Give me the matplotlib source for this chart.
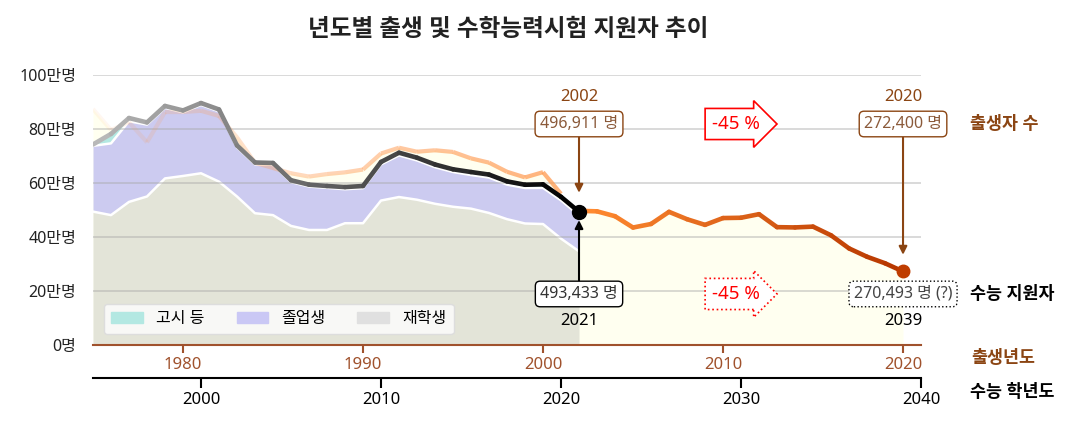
import numpy as np
import matplotlib
matplotlib.use("Agg")
import matplotlib.pyplot as plt
from matplotlib.collections import LineCollection
from matplotlib.colors import to_rgba
from matplotlib.patches import Patch
from matplotlib.ticker import FuncFormatter

plt.rcParams['font.family'] = ['Noto Sans', 'Noto Sans CJK KR', 'DejaVu Sans']

# 출생자 수 (출생년도 1975-2020)
birth_years = np.arange(1975, 2021)
births = [874030, 796331, 825339, 750728, 862669, 862835, 867409, 848312, 769155, 674793,
          655489, 636019, 623831, 633092, 639431, 649738, 709275, 730678, 715826, 721185,
          715020, 691226, 675394, 641594, 620668, 640089, 559934, 496911, 495036, 476958,
          435031, 448153, 493189, 465892, 444849, 470171, 471265, 484550, 436455, 435435,
          438420, 406243, 357771, 326822, 302676, 272400]

# 수능 지원자 (수능 학년도 1994-2021)
csat_years = np.arange(1994, 2022)
csat_total = [742668, 781749, 840661, 824374, 885321, 868643, 896122, 872297, 739129, 675922,
              674154, 610257, 593806, 588899, 584934, 588839, 677834, 712227, 693631, 668527,
              650747, 640621, 631187, 605987, 593527, 594924, 548734, 493433]
csat_current = [494000, 481000, 530000, 550000, 617000, 626000, 636000, 605000, 550000, 488000,
                481000, 441000, 426000, 426000, 451000, 451000, 535000, 548000, 538000, 523000,
                512000, 505000, 489000, 466000, 450000, 448000, 394000, 347000]
csat_etc = [5000, 35000, 12000, 8000, 7000, 7000, 7000, 7000, 7000, 7000,
            7000, 7000, 7000, 7000, 8000, 8000, 9000, 10000, 10000, 10000,
            10000, 11000, 11000, 12000, 12000, 13000, 13000, 13691]

shift = 19  # 수능 학년도 = 출생년도 + 19

births = np.array(births, dtype=float)
csat_total = np.array(csat_total, dtype=float)
csat_current = np.array(csat_current, dtype=float)
csat_etc = np.array(csat_etc, dtype=float)
csat_grad = csat_total - csat_current - csat_etc
cx = csat_years - shift

brown = '#8b4513'
fig = plt.figure(figsize=(10.8, 4.32), dpi=100)
ax = fig.add_axes([0.0861, 0.2014, 0.7667, 0.625])

# 출생자 영역
ax.fill_between(birth_years, 0, births, color='#fffff0', lw=0, zorder=0.5)

# 수능 지원자 누적 영역
ax.fill_between(cx, 0, csat_current, color='#e3e4d8', lw=0, zorder=1)
ax.fill_between(cx, csat_current, csat_current + csat_grad, color='#cccbf0', lw=0, zorder=1)
ax.fill_between(cx, csat_current + csat_grad, csat_total, color='#b3e8e2', lw=0, zorder=1)
ax.plot(cx, csat_current, color='white', lw=1.8, zorder=1.2)
ax.plot(cx, csat_current + csat_grad, color='white', lw=1.8, zorder=1.2)

# 과거 출생자 (흐리게)
old = birth_years <= 2001
pts = np.column_stack([birth_years[old], births[old]])
segs = np.stack([pts[:-1], pts[1:]], axis=1)
alphas = np.linspace(0.08, 0.75, len(segs))
cols = [to_rgba('#ff9a50', a) for a in alphas]
ax.add_collection(LineCollection(segs, colors=cols, linewidths=3, zorder=3, capstyle='butt'))

# 수능 지원자 합계 (회색 -> 검정)
pts = np.column_stack([cx, csat_total])
segs = np.stack([pts[:-1], pts[1:]], axis=1)
g = np.linspace(0.72, 0.0, len(segs))
ax.add_collection(LineCollection(segs, colors=[(v, v, v) for v in g], linewidths=3.3,
                                 zorder=4, capstyle='round', joinstyle='round'))

# 최근 출생자 (주황 -> 적갈색)
new = birth_years >= 2002
pts = np.column_stack([birth_years[new], births[new]])
segs = np.stack([pts[:-1], pts[1:]], axis=1)
c0, c1 = np.array(to_rgba('#ff8a30')), np.array(to_rgba('#b83800'))
t = np.linspace(0, 1, len(segs))
ax.add_collection(LineCollection(segs, colors=[c0 + (c1 - c0) * v for v in t], linewidths=3.3,
                                 zorder=4, capstyle='round', joinstyle='round'))

ax.plot(2002, csat_total[-1], 'o', color='black', ms=10, zorder=6)
ax.plot(2020, births[-1], 'o', color='#bf3d00', ms=9, zorder=6)

# 주석
fs_box = 11.5
fs_year = 12
ax.annotate('496,911 명', xy=(2002, births[birth_years == 2002][0]), xytext=(2002, 818500),
            ha='center', va='center', fontsize=fs_box, color='#8b5a3a',
            bbox=dict(boxstyle='round,pad=0.3', fc='white', ec=brown, lw=1),
            arrowprops=dict(arrowstyle='-|>', color=brown, lw=1.5, shrinkA=0, shrinkB=13,
                            mutation_scale=12), zorder=7)
ax.text(2002, 918500, '2002', ha='center', va='center', fontsize=fs_year, color=brown)
ax.annotate('272,400 명', xy=(2020, births[-1]), xytext=(2020, 818500),
            ha='center', va='center', fontsize=fs_box, color='#8b5a3a',
            bbox=dict(boxstyle='round,pad=0.3', fc='white', ec=brown, lw=1),
            arrowprops=dict(arrowstyle='-|>', color=brown, lw=1.5, shrinkA=0, shrinkB=12,
                            mutation_scale=12), zorder=7)
ax.text(2020, 918500, '2020', ha='center', va='center', fontsize=fs_year, color=brown)

ax.annotate('493,433 명', xy=(2002, csat_total[-1]), xytext=(2002, 189000),
            ha='center', va='center', fontsize=fs_box, color='#333333',
            bbox=dict(boxstyle='round,pad=0.3', fc='white', ec='black', lw=1),
            arrowprops=dict(arrowstyle='-|>', color='black', lw=1.5, shrinkA=0, shrinkB=6,
                            mutation_scale=12), zorder=7)
ax.text(2002, 89000, '2021', ha='center', va='center', fontsize=fs_year, color='black')
ax.text(2020, 189000, '270,493 명 (?)', ha='center', va='center', fontsize=fs_box, color='#444444',
        bbox=dict(boxstyle='round,pad=0.3', fc='white', ec='black', lw=1, ls=':'), zorder=7)
ax.text(2020, 89000, '2039', ha='center', va='center', fontsize=fs_year, color='black')

ax.text(2010.7, 818500, '-45 %', ha='center', va='center', fontsize=13.5, color='red',
        bbox=dict(boxstyle='rarrow,pad=0.35', fc='white', ec='red', lw=1.2), zorder=7)
ax.text(2010.7, 189000, '-45 %', ha='center', va='center', fontsize=13.5, color='red',
        bbox=dict(boxstyle='rarrow,pad=0.35', fc='white', ec='red', lw=1.2, ls=':'), zorder=7)

ax.text(2023.7, 818500, '출생자 수', ha='left', va='center', fontsize=12.5, fontweight='bold',
        color=brown, clip_on=False)
ax.text(2023.7, 189000, '수능 지원자', ha='left', va='center', fontsize=12.5, fontweight='bold',
        color='black', clip_on=False)
ax.text(2023.8, -48000, '출생년도', ha='left', va='center', fontsize=12.5, fontweight='bold',
        color=brown, clip_on=False)
ax.text(2023.7, -174000, '수능 학년도', ha='left', va='center', fontsize=12.5, fontweight='bold',
        color='black', clip_on=False)

# 축
ax.set_xlim(1975, 2021)
ax.set_ylim(0, 1000000)
ax.set_yticks(np.arange(0, 1000001, 200000))
ax.yaxis.set_major_formatter(FuncFormatter(lambda v, p: '0명' if v == 0 else f'{int(v / 10000)}만명'))
ax.tick_params(axis='y', length=0, pad=12, labelsize=11.5, labelcolor='#222222')
ax.set_xticks([1980, 1990, 2000, 2010, 2020])
ax.tick_params(axis='x', length=6, width=1.5, color='#a0522d', labelcolor='#a0522d',
               labelsize=fs_year, pad=3)
for s in ['left', 'right', 'top']:
    ax.spines[s].set_visible(False)
ax.spines['bottom'].set_color('#a0522d')
ax.spines['bottom'].set_linewidth(1.5)
ax.spines['bottom'].set_zorder(5)
ax.set_axisbelow(False)
ax.grid(axis='y', color='#a8a8a8', alpha=0.5, lw=1.2)
ax.grid(axis='x', visible=False)

sec = ax.secondary_xaxis(-33 / 270, functions=(lambda x: x + shift, lambda x: x - shift))
sec.set_xticks([2000, 2010, 2020, 2030, 2040])
sec.tick_params(axis='x', length=7, width=1.5, color='black', labelsize=fs_year, pad=3)
sec.spines['bottom'].set_linewidth(1.5)

handles = [Patch(color='#b3e8e2', label='고시 등'),
           Patch(color='#cac8f5', label='졸업생'),
           Patch(color='#e0e0e0', label='재학생')]
leg = ax.legend(handles=handles, loc='lower left', ncol=3, fontsize=11.5,
                bbox_to_anchor=(0.004, 0.01), frameon=True, fancybox=True,
                handlelength=2.0, handleheight=0.7, handletextpad=0.8,
                columnspacing=2.0, borderpad=0.45)
leg.get_frame().set_facecolor('#f8f8f6')
leg.get_frame().set_edgecolor('#dddddd')
leg.get_frame().set_alpha(1)
leg.set_zorder(8)

fig.text(0.471, 0.93, '년도별 출생 및 수학능력시험 지원자 추이', ha='center', va='center',
         fontsize=17, fontweight='bold', color='#222222')

fig.savefig('out.png', dpi=100)
